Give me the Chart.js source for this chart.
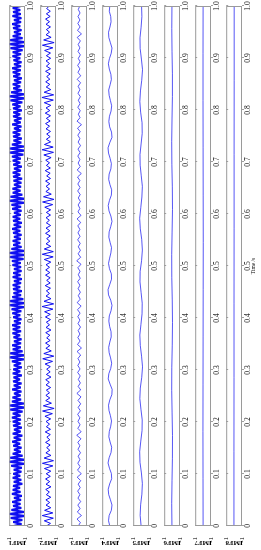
<!DOCTYPE html>
<html>
<head>
<meta charset="utf-8">
<script src="https://cdn.jsdelivr.net/npm/chart.js@4.4.1/dist/chart.umd.min.js"></script>
<style>
  html, body { margin: 0; padding: 0; background: #fff; overflow: hidden; }
  /* the figure is laid out landscape, then turned a quarter to the left */
  #page {
    position: absolute; left: 0; top: 0; width: 550px; height: 261px;
    transform-origin: 0 0; transform: translate(0, 550px) rotate(-90deg);
  }
  .panel { position: absolute; left: 0; width: 550px; }
</style>
</head>
<body>
<div id="page"></div>
<script>
const imfNames = ['IMF1', 'IMF2', 'IMF3', 'IMF4', 'IMF5', 'IMF6', 'IMF7', 'IMF8'];
const timeTicks = [0, 0.1, 0.2, 0.3, 0.4, 0.5, 0.6, 0.7, 0.8, 0.9, 1];
const ampTicks = [-1, 0, 1];
const timeLabel = 'Time /s';

// IMF1 - high frequency, impulses about every 0.1 s
const imf1 = [
    0.42,-0.56,0.48,-0.66,0.82,-1.00,0.98,-0.90,0.72,-0.54,0.50,-0.42,0.60,
    -0.48,0.38,-0.58,0.66,-0.44,0.54,-0.36,0.50,-0.64,0.42,-0.52,0.56,-0.38,
    0.48,-0.54,0.42,-0.60,0.74,-0.92,1.00,-0.98,0.88,-0.70,0.56,-0.46,0.40,
    -0.56,0.48,-0.38,0.60,-0.50,0.42,-0.66,0.54,-0.44,0.38,-0.58,0.50,-0.42,
    0.56,-0.48,0.64,-0.42,0.54,-0.70,0.88,-1.00,0.96,-0.84,0.66,-0.50,0.58,
    -0.44,0.38,-0.54,0.62,-0.46,0.42,-0.56,0.50,-0.36,0.46,-0.60,0.54,-0.40,
    0.48,-0.58,0.42,-0.50,0.66,-0.84,1.00,-1.00,0.90,-0.68,0.54,-0.46,0.60,
    -0.50,0.40,-0.56,0.46,-0.38,0.58,-0.48,0.54,-0.40,0.62,-0.46,0.38,-0.54,
    0.48,-0.40,0.60,-0.54,0.70,-0.88,1.00,-1.00,0.96,-0.78,0.60,-0.50,0.44,
    -0.58,0.50,-0.40,0.56,-0.48,0.38,-0.60,0.54,-0.42,0.48,-0.56,0.40,-0.50,
    0.58,-0.46,0.66,-0.82,0.96,-1.00,1.00,-0.94,0.72,-0.56,0.48,-0.40,0.54,
    -0.46,0.38,-0.56,0.50,-0.40,0.60,-0.48,0.42,-0.58,0.50,-0.38,0.54,-0.46,
    0.40,-0.56,0.62,-0.50,0.72,-0.90,1.00,-0.98,0.86,-0.66,0.54,-0.42,0.58,
    -0.48,0.40,-0.54,0.46,-0.62,0.50,-0.38,0.56,-0.46,0.40,-0.58,0.48,-0.40,
    0.54,-0.46,0.64,-0.78,0.98,-1.00,0.96,-0.84,0.66,-0.54,0.46,-0.58,0.50,
    -0.40,0.56,-0.48,0.38,-0.54,0.62,-0.46,0.40,-0.56,0.50,-0.38,0.48,-0.58,
    0.50,-0.42,0.60,-0.66,0.86,-1.00,1.00,-0.96,0.76,-0.58,0.48,-0.40,0.56,
    -0.50,0.40,-0.58,0.48,-0.38,0.54,-0.46,0.62,-0.50,0.40,-0.56,0.46,-0.40,
    0.58,-0.48,0.54,-0.70,0.84,-1.00,1.00,-0.98,0.90,-0.68,0.54,-0.46,0.40,
    -0.56,0.50,-0.40,0.60,-0.48,0.38,-0.54,0.58,-0.46,0.50,-0.40,0.56,-0.48
];

const imf2 = [
    0.22,-0.30,0.48,-0.66,0.74,-0.60,0.44,-0.34,0.26,-0.20,
    0.28,-0.34,0.22,-0.16,0.30,-0.36,0.26,-0.20,0.32,-0.28,
    0.24,-0.34,0.46,-0.60,0.72,-0.68,0.50,-0.36,0.28,-0.22,
    0.18,-0.26,0.32,-0.22,0.16,-0.28,0.36,-0.30,0.22,-0.18,
    0.26,-0.32,0.40,-0.54,0.70,-0.76,0.60,-0.42,0.30,-0.22,
    0.28,-0.18,0.22,-0.32,0.26,-0.16,0.30,-0.36,0.22,-0.26,
    0.18,-0.28,0.38,-0.56,0.68,-0.72,0.54,-0.40,0.28,-0.22,
    0.32,-0.26,0.18,-0.22,0.30,-0.36,0.26,-0.18,0.22,-0.30,
    0.34,-0.28,0.44,-0.60,0.76,-0.70,0.52,-0.36,0.26,-0.18,
    0.22,-0.30,0.36,-0.26,0.18,-0.26,0.32,-0.22,0.30,-0.18,
    0.26,-0.34,0.48,-0.64,0.74,-0.66,0.48,-0.34,0.26,-0.22,
    0.18,-0.28,0.32,-0.22,0.26,-0.32,0.22,-0.16,0.26,-0.30,
    0.22,-0.32,0.42,-0.58,0.70,-0.74,0.58,-0.40,0.28,-0.18,
    0.26,-0.22,0.32,-0.30,0.18,-0.26,0.36,-0.28,0.22,-0.18,
    0.30,-0.38,0.54,-0.68,0.76,-0.64,0.46,-0.32,0.22,-0.26,
    0.18,-0.30,0.26,-0.18,0.32,-0.26,0.22,-0.30,0.36,-0.22,
    0.26,-0.34,0.48,-0.66,0.78,-0.70,0.50,-0.34,0.24,-0.22,
    0.30,-0.22,0.18,-0.26,0.32,-0.30,0.22,-0.18,0.26,-0.32,
    0.22,-0.30,0.44,-0.60,0.72,-0.76,0.56,-0.38,0.26,-0.18,
    0.22,-0.30,0.26,-0.18,0.32,-0.26,0.22,-0.28,0.18,-0.14
];

const imf3 = [
    0.10,-0.16,0.26,-0.30,0.22,-0.12,0.16,-0.20,0.14,-0.10,
    0.18,-0.14,0.12,-0.20,0.24,-0.28,0.20,-0.12,0.16,-0.10,
    0.12,-0.18,0.14,-0.10,0.16,-0.24,0.30,-0.26,0.16,-0.12,
    0.14,-0.10,0.18,-0.16,0.12,-0.20,0.14,-0.24,0.28,-0.20,
    0.12,-0.16,0.10,-0.14,0.18,-0.12,0.16,-0.10,0.14,-0.20,
    0.26,-0.30,0.20,-0.12,0.16,-0.10,0.12,-0.18,0.14,-0.10,
    0.16,-0.12,0.20,-0.26,0.24,-0.14,0.10,-0.16,0.12,-0.10,
    0.18,-0.14,0.10,-0.12,0.16,-0.24,0.30,-0.20,0.12,-0.16,
    0.10,-0.14,0.18,-0.12,0.14,-0.10,0.16,-0.20,0.26,-0.24,
    0.14,-0.10,0.12,-0.16,0.10,-0.14,0.18,-0.12,0.16,-0.10,
    0.20,-0.28,0.24,-0.14,0.12,-0.10,0.16,-0.12,0.14,-0.18,
    0.12,-0.10,0.16,-0.14,0.20,-0.30,0.26,-0.12,0.10,-0.14,
    0.16,-0.12,0.10,-0.16,0.14,-0.10,0.12,-0.18,0.24,-0.20,
    0.14,-0.10,0.18,-0.12,0.10,-0.16,0.14,-0.10,0.12,-0.16,
    0.24,-0.30,0.20,-0.12,0.16,-0.10,0.14,-0.12,0.10,-0.08
];

const imf4 = [
    0.04,0.20,0.12,-0.16,-0.24,-0.04,0.18,0.24,0.06,-0.20,
    -0.16,0.08,0.26,0.12,-0.12,-0.20,0.00,0.16,0.10,-0.08,
    -0.18,-0.04,0.14,0.20,0.04,-0.22,-0.26,0.00,0.24,0.16,
    -0.08,-0.20,-0.06,0.12,0.18,0.04,-0.14,-0.12,0.06,0.16,
    0.10,-0.12,-0.24,-0.08,0.20,0.26,0.04,-0.18,-0.16,0.08,
    0.20,0.06,-0.10,-0.18,0.00,0.16,0.12,-0.08,-0.24,-0.10,
    0.14,0.24,0.08,-0.16,-0.20,0.02,0.18,0.12,-0.10,-0.16,
    0.00,0.20,0.26,0.04,-0.24,-0.18,0.06,0.16,0.08,-0.12,
    -0.20,-0.04,0.12,0.18,0.00,-0.16,-0.10,0.10,0.22,0.08,
    -0.14,-0.24,-0.04,0.16,0.20,0.02,-0.12,-0.08,0.10,0.04
];

const imf5 = [
    0.00,0.12,0.06,-0.10,-0.16,-0.04,0.14,0.18,0.04,-0.12,
    -0.14,0.02,0.16,0.10,-0.08,-0.18,-0.06,0.10,0.16,0.02,
    -0.12,-0.14,0.00,0.14,0.12,-0.06,-0.16,-0.08,0.10,0.18,
    0.04,-0.10,-0.16,-0.02,0.12,0.14,0.00,-0.14,-0.12,0.06,
    0.16,0.08,-0.08,-0.18,-0.04,0.12,0.14,0.00,-0.10,-0.06
];

const imf6 = [
    0.02,0.05,0.01,-0.04,-0.05,0.00,0.05,0.04,-0.02,-0.05,-0.02,0.04,
    0.05,0.00,-0.05,-0.03,0.03,0.05,0.01,-0.04,-0.04,0.01,0.04,0.02
];

const imf7 = [0.00,0.01,0.02,0.01,0.00,-0.01,-0.02,-0.01,0.00,0.01,0.01,0.00];

const imf8 = [0.02,0.02,0.01,0.01,0.00,0.00,-0.01,-0.01];

const imfSeries = [imf1, imf2, imf3, imf4, imf5, imf6, imf7, imf8];

// the dense first mode reads as a solid band in the figure
const lineWidths = [2.1, 1.0, 0.7, 0.7, 0.7, 0.7, 0.7, 0.7];

Chart.defaults.font.family = '"Liberation Serif", "Times New Roman", serif';
Chart.defaults.color = '#222';

// draw the grey frame round each panel
const boxPlugin = {
    id: 'box',
    afterDatasetsDraw(chart) {
        const { ctx, chartArea: a } = chart;
        ctx.save();
        ctx.strokeStyle = '#9a9a9a';
        ctx.lineWidth = 1;
        ctx.strokeRect(a.left + 0.5, a.top + 0.5, a.width - 1, a.height - 1);
        ctx.restore();
    }
};

const page = document.getElementById('page');

imfSeries.forEach((values, k) => {
    const last = k === imfSeries.length - 1;
    const top = 2 + 31 * k;
    const height = last ? 261 - top : 33;

    const wrap = document.createElement('div');
    wrap.className = 'panel';
    wrap.style.top = top + 'px';
    wrap.style.height = height + 'px';
    const canvas = document.createElement('canvas');
    wrap.appendChild(canvas);
    page.appendChild(wrap);

    new Chart(canvas, {
        type: 'line',
        data: {
            datasets: [{
                data: values.map((v, i) => ({ x: i / (values.length - 1), y: v })),
                borderColor: 'rgb(15,15,240)',
                borderWidth: lineWidths[k],
                borderJoinStyle: 'bevel',
                pointRadius: 0,
                tension: 0,
                fill: false
            }]
        },
        options: {
            responsive: true,
            maintainAspectRatio: false,
            animation: false,
            devicePixelRatio: 1,
            events: [],
            layout: { padding: { top: 2, right: 6, bottom: 0, left: 0 } },
            scales: {
                x: {
                    type: 'linear',
                    min: 0,
                    max: 1,
                    afterBuildTicks: s => { s.ticks = timeTicks.map(v => ({ value: v })); },
                    afterFit: s => { s.height = last ? height - 23 : 10; },
                    grid: { color: '#a0a0a0', tickColor: '#a0a0a0', tickLength: 2 },
                    border: { display: false, dash: [2, 17, 2, 60] }, // only short marks at both edges
                    ticks: { autoSkip: false, maxRotation: 0, padding: 0, color: '#111', font: { size: 7.5 } },
                    title: {
                        display: last,
                        text: timeLabel,
                        color: '#111',
                        font: { size: 5.5 },
                        padding: { top: 0, bottom: 4 }
                    }
                },
                y: {
                    min: -1,
                    max: 1,
                    afterBuildTicks: s => { s.ticks = ampTicks.map(v => ({ value: v })); },
                    afterFit: s => { s.width = 24; },
                    grid: { display: false },
                    border: { display: false },
                    ticks: { padding: 3, color: '#111', font: { size: 7 } },
                    title: {
                        display: true,
                        text: imfNames[k],
                        color: '#000',
                        font: { size: 7, weight: 'bold' },
                        padding: { top: 3, bottom: 0 }
                    }
                }
            },
            plugins: {
                legend: { display: false },
                tooltip: { enabled: false }
            }
        },
        plugins: [boxPlugin]
    });
});
</script>
</body>
</html>
